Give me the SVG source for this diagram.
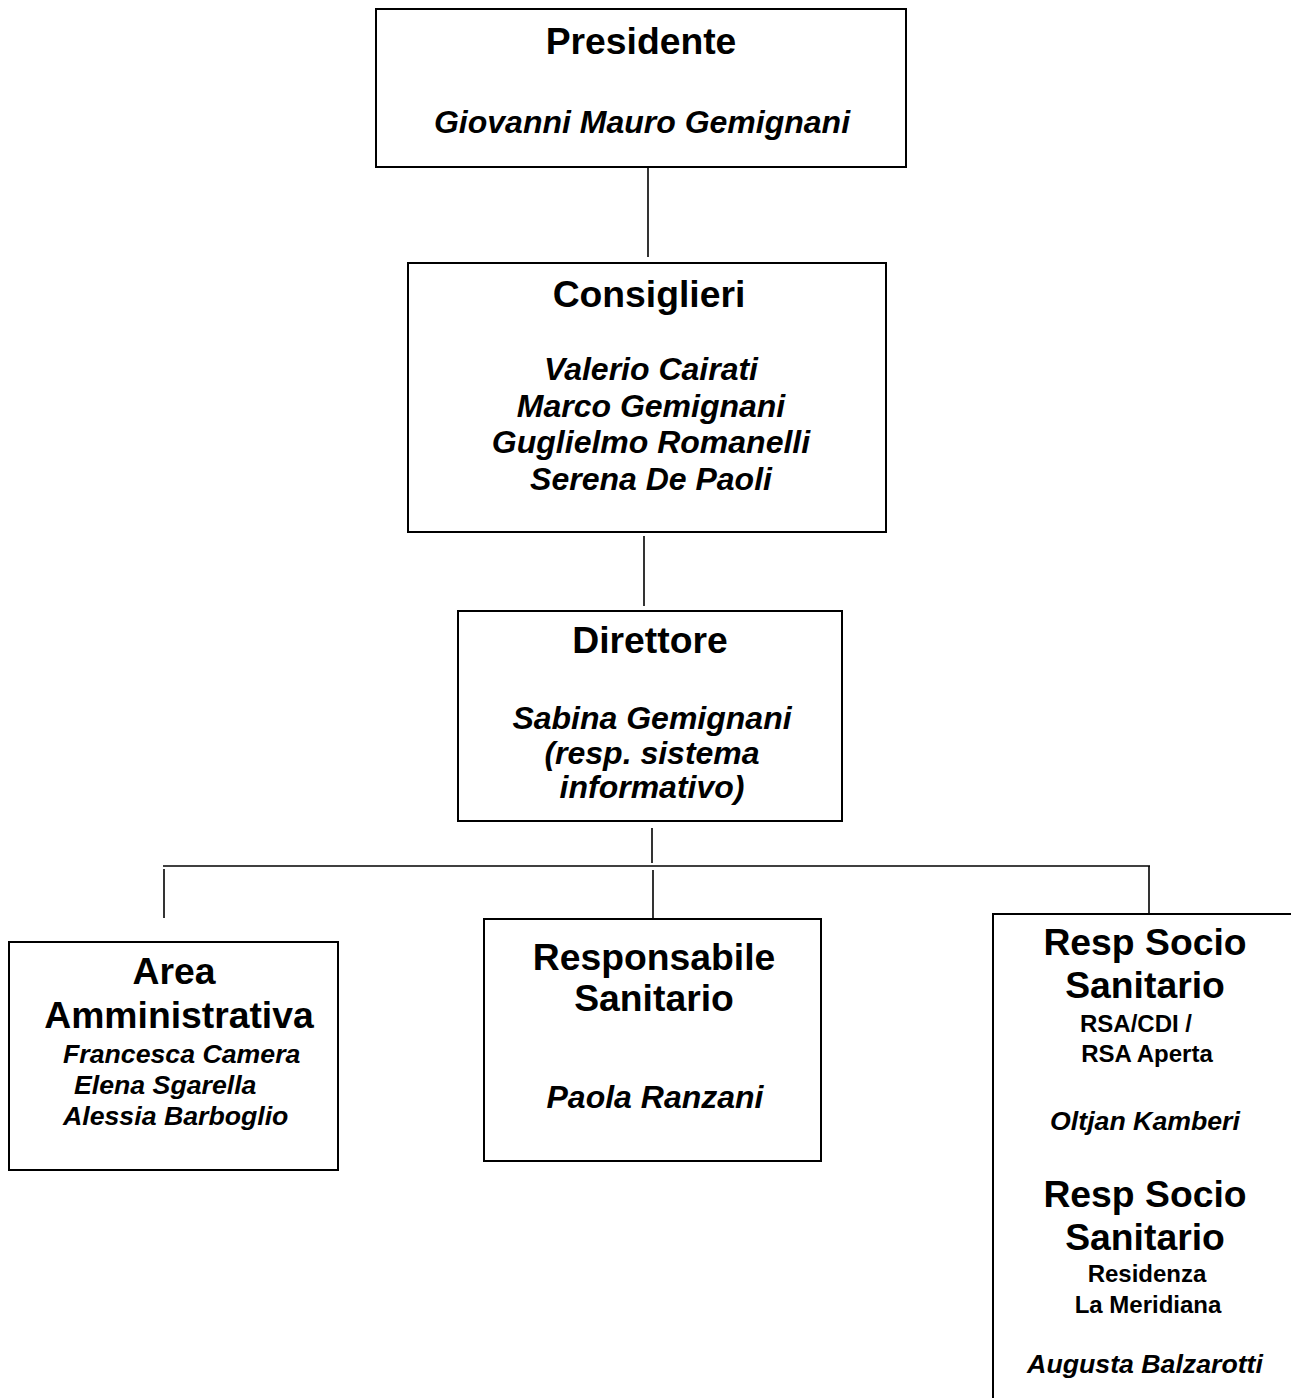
<svg xmlns="http://www.w3.org/2000/svg" width="1291" height="1398" viewBox="0 0 1291 1398">
<style>
.box{fill:#fff;stroke:#000;stroke-width:2}
.ln{stroke:#000;stroke-width:1.6;fill:none}
text{font-family:"Liberation Sans",Arial,sans-serif;font-weight:bold;fill:#000}
.t{font-size:37.3px;text-anchor:middle}
.n{font-size:32px;font-style:italic;text-anchor:middle}
.s{font-size:26.7px;font-style:italic}
.m{font-size:24px;text-anchor:middle}
</style>
<rect width="1291" height="1398" fill="#fff"/>
<g id="connectors">
<line class="ln" x1="648" y1="167" x2="648" y2="257"/>
<line class="ln" x1="644" y1="536" x2="644" y2="606"/>
<line class="ln" x1="652" y1="828" x2="652" y2="863"/>
<line class="ln" x1="163" y1="866" x2="1150" y2="866"/>
<line class="ln" x1="164" y1="869" x2="164" y2="918"/>
<line class="ln" x1="653" y1="870" x2="653" y2="918"/>
<line class="ln" x1="1149" y1="866" x2="1149" y2="914"/>
</g>
<g id="presidente">
<rect class="box" x="376" y="9" width="530" height="158"/>
<text class="t" x="641" y="54">Presidente</text>
<text class="n" x="642" y="133">Giovanni Mauro Gemignani</text>
</g>
<g id="consiglieri">
<rect class="box" x="408" y="263" width="478" height="269"/>
<text class="t" x="649" y="307">Consiglieri</text>
<text class="n" x="651" y="380">Valerio Cairati</text>
<text class="n" x="651" y="417">Marco Gemignani</text>
<text class="n" x="651" y="453">Guglielmo Romanelli</text>
<text class="n" x="651" y="490">Serena De Paoli</text>
</g>
<g id="direttore">
<rect class="box" x="458" y="611" width="384" height="210"/>
<text class="t" x="650" y="653">Direttore</text>
<text class="n" x="652" y="729">Sabina Gemignani</text>
<text class="n" x="652" y="764">(resp. sistema</text>
<text class="n" x="652" y="798">informativo)</text>
</g>
<g id="area-amministrativa">
<rect class="box" x="9" y="942" width="329" height="228"/>
<text class="t" x="174" y="984">Area</text>
<text class="t" x="179" y="1028">Amministrativa</text>
<text class="s" x="63" y="1063">Francesca Camera</text>
<text class="s" x="74" y="1094">Elena Sgarella</text>
<text class="s" x="63" y="1125">Alessia Barboglio</text>
</g>
<g id="responsabile-sanitario">
<rect class="box" x="484" y="919" width="337" height="242"/>
<text class="t" x="654" y="970">Responsabile</text>
<text class="t" x="654" y="1011">Sanitario</text>
<text class="n" x="655" y="1108">Paola Ranzani</text>
</g>
<g id="resp-socio-sanitario">
<rect class="box" x="993" y="914" width="400" height="600"/>
<text class="t" x="1145" y="955">Resp Socio</text>
<text class="t" x="1145" y="998">Sanitario</text>
<text class="m" x="1136" y="1032">RSA/CDI /</text>
<text class="m" x="1147" y="1062">RSA Aperta</text>
<text class="s" x="1145" y="1130" text-anchor="middle">Oltjan Kamberi</text>
<text class="t" x="1145" y="1207">Resp Socio</text>
<text class="t" x="1145" y="1250">Sanitario</text>
<text class="m" x="1147" y="1282">Residenza</text>
<text class="m" x="1148" y="1313">La Meridiana</text>
<text class="s" x="1145" y="1373" text-anchor="middle">Augusta Balzarotti</text>
</g>
</svg>
